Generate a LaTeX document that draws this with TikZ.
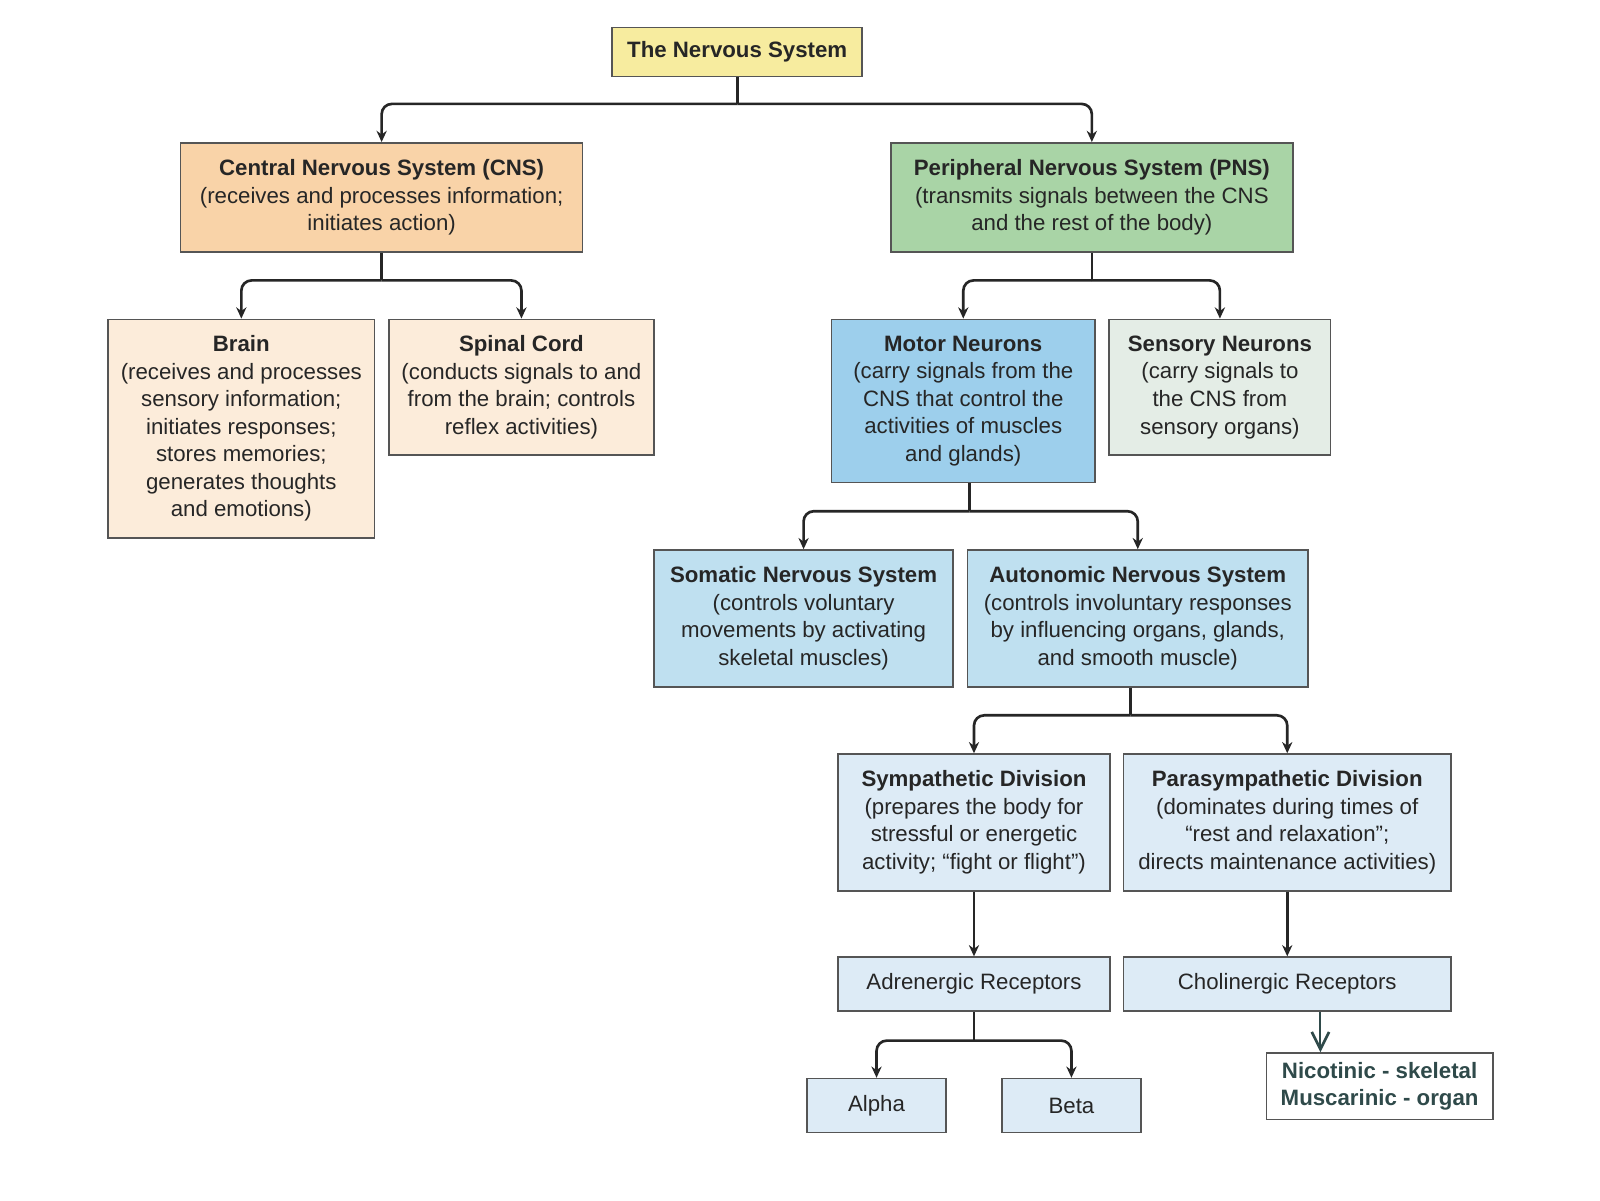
\documentclass[tikz,border=0pt]{standalone}
\usepackage{fontspec}
\setmainfont{Liberation Sans}
\usetikzlibrary{arrows.meta}
\definecolor{cyel}{HTML}{F7EC9F}
\definecolor{corg}{HTML}{F9D3A8}
\definecolor{cgrn}{HTML}{A9D4A6}
\definecolor{cpch}{HTML}{FCECDA}
\definecolor{cblu}{HTML}{9DCFEC}
\definecolor{cgry}{HTML}{E4EDE6}
\definecolor{cmid}{HTML}{BFE0F0}
\definecolor{clit}{HTML}{DDEBF6}
\definecolor{cbrd}{HTML}{555555}
\definecolor{ctxt}{HTML}{262626}
\definecolor{cslt}{HTML}{2F4A4A}
\tikzset{
  box/.style={draw=cbrd, line width=1.6pt, rectangle, inner sep=0pt, align=center,
    text=ctxt, font=\fontsize{21.8}{27}\selectfont},
  conn/.style={draw=ctxt, line width=2.6pt, rounded corners=10pt},
  arr/.style={conn, -{Stealth[length=11pt,width=10pt]}},
  varr/.style={draw=cslt, line width=2pt, -{Straight Barb[length=17pt,width=17pt,line width=2.6pt]}}
}
\begin{document}
\begin{tikzpicture}[x=1pt,y=-1pt]
\useasboundingbox[fill=white] (0,0) rectangle (1568,1176);
% nodes
\node[box, fill=cyel, minimum width=245, minimum height=48] (top) at (722.5,51) {\textbf{The Nervous System}};
\node[box, fill=corg, minimum width=394, minimum height=107] (cns) at (374,193.5)
  {\textbf{Central Nervous System (CNS)}\\(receives and processes information;\\initiates action)};
\node[box, fill=cgrn, minimum width=394, minimum height=107] (pns) at (1070,193.5)
  {\textbf{Peripheral Nervous System (PNS)}\\(transmits signals between the CNS\\and the rest of the body)};
\node[box, fill=cpch, minimum width=261, minimum height=214] (brain) at (236.5,420)
  {\textbf{Brain}\\(receives and processes\\sensory information;\\initiates responses;\\stores memories;\\generates thoughts\\and emotions)};
\node[box, fill=cpch, minimum width=260, minimum height=133] (spinal) at (511,379.5)
  {\textbf{Spinal Cord}\\(conducts signals to and\\from the brain; controls\\reflex activities)};
\node[box, fill=cblu, minimum width=258, minimum height=160] (motor) at (944,393)
  {\textbf{Motor Neurons}\\(carry signals from the\\CNS that control the\\activities of muscles\\and glands)};
\node[box, fill=cgry, minimum width=217, minimum height=133] (sensory) at (1195.5,379.5)
  {\textbf{Sensory Neurons}\\(carry signals to\\the CNS from\\sensory organs)};
\node[box, fill=cmid, minimum width=293, minimum height=134] (somatic) at (787.5,606)
  {\textbf{Somatic Nervous System}\\(controls voluntary\\movements by activating\\skeletal muscles)};
\node[box, fill=cmid, minimum width=334, minimum height=134] (auto) at (1115,606)
  {\textbf{Autonomic Nervous System}\\(controls involuntary responses\\by influencing organs, glands,\\and smooth muscle)};
\node[box, fill=clit, minimum width=267, minimum height=134] (symp) at (954.5,806)
  {\textbf{Sympathetic Division}\\(prepares the body for\\stressful or energetic\\activity; “fight or flight”)};
\node[box, fill=clit, minimum width=321, minimum height=134] (para) at (1261.5,806)
  {\textbf{Parasympathetic Division}\\(dominates during times of\\“rest and relaxation”;\\directs maintenance activities)};
\node[box, fill=clit, minimum width=267, minimum height=53] (adren) at (954.5,964.5) {Adrenergic Receptors};
\node[box, fill=clit, minimum width=321, minimum height=53] (chol) at (1261.5,964.5) {Cholinergic Receptors};
\node[box, fill=clit, minimum width=136, minimum height=53] (alpha) at (859,1083.5) {Alpha};
\node[box, fill=clit, minimum width=136, minimum height=53] (beta) at (1050,1083.5) {Beta};
\node[box, fill=white, text=cslt, minimum width=222, minimum height=65] (nico) at (1352,1064.5)
  {\textbf{Nicotinic - skeletal}\\\textbf{Muscarinic - organ}};
% connectors
\draw[conn] (top.south) -- ++(0,26) coordinate (j1);
\draw[arr] (j1) -| (cns.north);
\draw[arr] (j1) -| (pns.north);
\draw[conn] (cns.south) -- ++(0,27) coordinate (j2);
\draw[arr] (j2) -| (brain.north);
\draw[arr] (j2) -| (spinal.north);
\draw[conn] (pns.south) -- ++(0,27) coordinate (j3);
\draw[arr] (j3) -| (motor.north);
\draw[arr] (j3) -| (sensory.north);
\coordinate (j4) at (950,501);
\draw[conn] (j4 |- motor.south) -- (j4);
\draw[arr] (j4) -| (somatic.north);
\draw[arr] (j4) -| (auto.north);
\coordinate (j5) at (1108,701);
\draw[conn] (j5 |- auto.south) -- (j5);
\draw[arr] (j5) -| (symp.north);
\draw[arr] (j5) -| (para.north);
\draw[arr] (symp.south) -- (adren.north);
\draw[arr] (para.south) -- (chol.north);
\draw[conn] (adren.south) -- ++(0,28) coordinate (j6);
\draw[arr] (j6) -| (alpha.north);
\draw[arr] (j6) -| (beta.north);
\coordinate (c7) at (1294,1000);
\draw[varr] (c7 |- chol.south) -- (c7 |- nico.north);
\end{tikzpicture}
\end{document}
